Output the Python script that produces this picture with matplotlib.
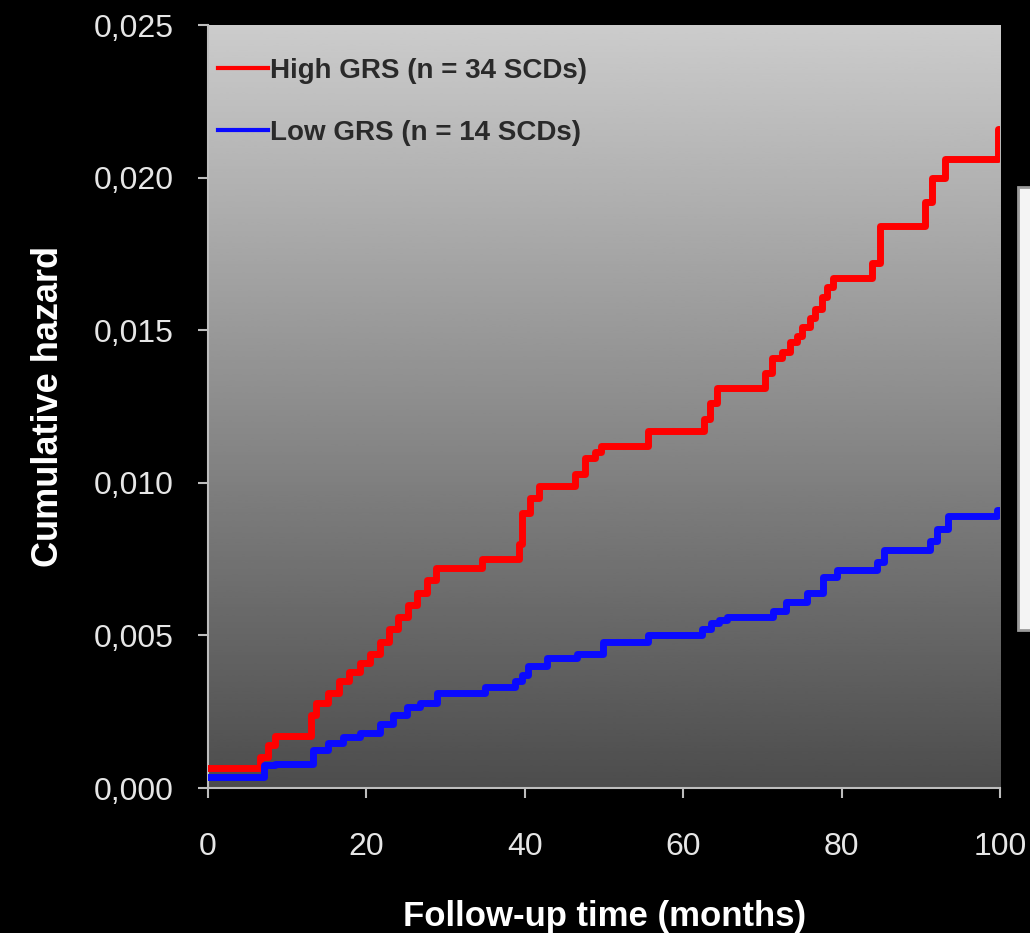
import numpy as np
import matplotlib
matplotlib.use("Agg")
import matplotlib.pyplot as plt
from matplotlib.patches import Rectangle
from matplotlib.ticker import FuncFormatter

# cumulative hazard step curves (time in months, hazard after each step)
red_t = [0, 6.6, 7.6, 8.5, 13.0, 13.6, 15.2, 16.5, 17.8, 19.2, 20.5, 21.7, 22.8,
         24.0, 25.2, 26.4, 27.6, 28.8, 34.6, 39.2, 39.6, 40.6, 41.8, 46.3, 47.6,
         48.8, 49.6, 55.6, 62.6, 63.4, 64.3, 70.3, 71.2, 72.4, 73.5, 74.3, 75.0,
         76.0, 76.6, 77.5, 78.2, 78.9, 83.8, 84.8, 90.5, 91.4, 93.1, 99.7, 100]
red_h = [0.00065, 0.0010, 0.0014, 0.0017, 0.0024, 0.0028, 0.0031, 0.0035, 0.0038,
         0.0041, 0.0044, 0.0048, 0.0052, 0.0056, 0.0060, 0.0064, 0.0068, 0.0072,
         0.0075, 0.0080, 0.0090, 0.0095, 0.0099, 0.0103, 0.0108, 0.0110, 0.0112,
         0.0117, 0.0121, 0.0126, 0.0131, 0.0136, 0.0141, 0.0143, 0.0146, 0.0148,
         0.0151, 0.0154, 0.0157, 0.0161, 0.0164, 0.0167, 0.0172, 0.0184, 0.0192,
         0.0200, 0.0206, 0.0216, 0.0216]

blue_t = [0, 7.0, 8.5, 13.3, 15.2, 17.0, 19.2, 21.7, 23.4, 25.1, 26.8, 28.9, 35.0,
          38.8, 39.6, 40.4, 42.8, 46.6, 49.9, 55.5, 62.4, 63.5, 64.5, 65.5, 71.3,
          73.0, 75.6, 77.7, 79.4, 84.5, 85.3, 91.2, 92.0, 93.4, 99.6, 100]
blue_h = [0.00035, 0.00075, 0.00078, 0.00125, 0.00147, 0.00167, 0.0018, 0.0021,
          0.0024, 0.00265, 0.0028, 0.0031, 0.0033, 0.0035, 0.0037, 0.0040, 0.00425,
          0.0044, 0.0048, 0.0050, 0.0052, 0.0054, 0.0055, 0.0056, 0.0058, 0.0061,
          0.0064, 0.0069, 0.00715, 0.0074, 0.0078, 0.0081, 0.0085, 0.0089, 0.0091,
          0.0091]

labels = ["High GRS (n = 34 SCDs)", "Low GRS (n = 14 SCDs)"]
x_ticks = [0, 20, 40, 60, 80, 100]
y_ticks = [0, 0.005, 0.010, 0.015, 0.020, 0.025]

plt.rcParams["font.family"] = ["Liberation Sans"]

fig = plt.figure(figsize=(10.3, 9.33), dpi=100, facecolor="black")
ax = fig.add_axes([0.202, 0.1554, 0.769, 0.8178])
ax.set_facecolor("black")

# vertical gray gradient behind the curves
grad = np.linspace(0, 1, 256).reshape(-1, 1)
ax.imshow(grad, extent=[0, 100, 0, 0.025], aspect="auto", cmap="gray",
          vmin=-0.6, vmax=1.4, origin="lower", zorder=0)

ax.step(red_t, red_h, where="post", color="#ff0000", lw=5, label=labels[0], zorder=3)
ax.step(blue_t, blue_h, where="post", color="#0a0aff", lw=5, label=labels[1], zorder=3)

ax.set_xlim(0, 100)
ax.set_ylim(0, 0.025)
ax.set_xticks(x_ticks)
ax.set_yticks(y_ticks)
ax.yaxis.set_major_formatter(FuncFormatter(lambda v, p: f"{v:.3f}".replace(".", ",")))

for s in ["top", "right"]:
    ax.spines[s].set_visible(False)
for s in ["left", "bottom"]:
    ax.spines[s].set_color("#bdbdbd")
    ax.spines[s].set_linewidth(1.5)
ax.tick_params(colors="#bdbdbd", labelcolor="#e6e6e6", length=7, width=1.5,
               labelsize=23, direction="out")
ax.tick_params(axis="y", pad=18)
ax.tick_params(axis="x", pad=25)

ax.set_ylabel("Cumulative hazard", color="white", fontsize=26, fontweight="bold",
              labelpad=20)
ax.set_xlabel("Follow-up time (months)", color="white", fontsize=25,
              fontweight="bold", labelpad=27)

leg = ax.legend(loc="upper left", bbox_to_anchor=(-0.01, 0.981), frameon=False,
                prop={"size": 20, "weight": "bold"}, handlelength=1.8,
                handletextpad=0.05, labelspacing=1.3, borderaxespad=0.25)
for t in leg.get_texts():
    t.set_color("#2a2a2a")
for h in leg.get_lines():
    h.set_linewidth(3)

# edge of the neighbouring white panel
fig.patches.append(Rectangle((0.988, 0.325), 0.02, 0.475, transform=fig.transFigure,
                             facecolor="#f4f4f4", edgecolor="#9a9a9a", lw=2))

fig.savefig("out.png", dpi=100, facecolor="black")
